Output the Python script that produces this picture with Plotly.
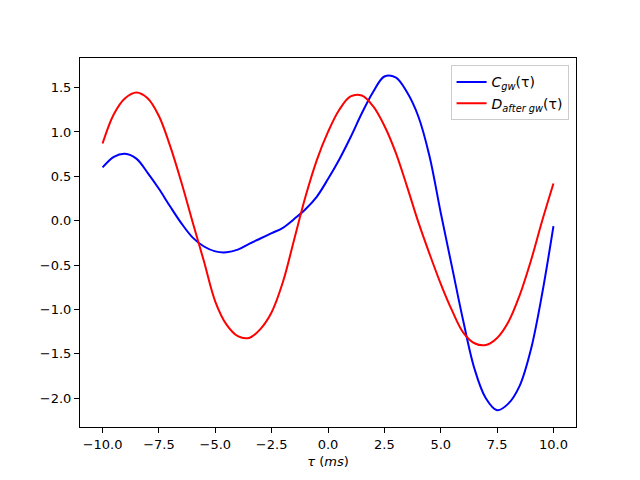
import plotly.graph_objects as go

tau = [-10, -9.5, -9.0, -8.5, -8.0, -7.5, -7.0, -6.5, -6.0, -5.5, -5.0, -4.5, -4.0, -3.5, -3.0,
       -2.5, -2.0, -1.5, -1.0, -0.5, 0.0, 0.5, 1.0, 1.5, 2.0, 2.5, 3.0, 3.5, 4.0, 4.5, 5.0,
       5.5, 6.0, 6.5, 7.0, 7.5, 8.0, 8.5, 9.0, 9.5, 10.0]

c_gw = [0.60, 0.72, 0.755, 0.70, 0.54, 0.36, 0.16, -0.03, -0.19, -0.29, -0.345, -0.355, -0.325,
        -0.26, -0.20, -0.14, -0.08, 0.02, 0.13, 0.27, 0.47, 0.69, 0.94, 1.21, 1.45, 1.625, 1.615,
        1.45, 1.18, 0.73, 0.09, -0.52, -1.13, -1.67, -2.00, -2.135, -2.06, -1.86, -1.45, -0.82, -0.06]

d_after = [0.87, 1.20, 1.38, 1.445, 1.38, 1.18, 0.84, 0.43, -0.02, -0.46, -0.91, -1.17, -1.30,
           -1.32, -1.22, -1.03, -0.69, -0.21, 0.27, 0.68, 1.00, 1.25, 1.40, 1.41, 1.29, 1.07, 0.77,
           0.39, -0.01, -0.37, -0.71, -1.01, -1.26, -1.38, -1.40, -1.32, -1.14, -0.84, -0.45, 0.00, 0.42]

xticks = [-10.0, -7.5, -5.0, -2.5, 0.0, 2.5, 5.0, 7.5, 10.0]
yticks = [-2.0, -1.5, -1.0, -0.5, 0.0, 0.5, 1.0, 1.5]

def lab(v):
    return f"{v:.1f}".replace("-", "\u2212")

fig = go.Figure()
fig.add_trace(go.Scatter(x=tau, y=c_gw, mode="lines", line=dict(color="#0000ff", width=2, shape="spline"),
                         name="<i>C</i><sub><i>gw</i></sub>(τ)"))
fig.add_trace(go.Scatter(x=tau, y=d_after, mode="lines", line=dict(color="#ff0000", width=2, shape="spline"),
                         name="<i>D</i><sub><i>after gw</i></sub>(τ)"))

allv = c_gw + d_after
lo, hi = min(allv), max(allv)
pad = 0.05 * (hi - lo)
xpad = 0.05 * (max(tau) - min(tau))

axis_common = dict(showgrid=False, zeroline=False, showline=True, linecolor="black", linewidth=1,
                   mirror=True, ticks="outside", ticklen=5, tickwidth=1, tickcolor="black",
                   tickfont=dict(family="DejaVu Sans", size=13, color="black"))

fig.update_layout(
    width=640, height=480,
    margin=dict(l=80, r=64, t=58, b=53),
    paper_bgcolor="white", plot_bgcolor="white",
    font=dict(family="DejaVu Sans", size=13, color="black"),
    xaxis=dict(range=[min(tau) - xpad, max(tau) + xpad], tickvals=xticks,
               ticktext=[lab(v) for v in xticks],
               title=dict(text="<i>τ</i> (<i>ms</i>)", standoff=6, font=dict(size=13)), **axis_common),
    yaxis=dict(range=[lo - pad, hi + pad + 0.02], tickvals=yticks, ticktext=[lab(v) for v in yticks],
               **axis_common),
    legend=dict(x=0.985, y=0.98, xanchor="right", yanchor="top", bgcolor="rgba(255,255,255,0.8)",
                bordercolor="#cccccc", borderwidth=1, font=dict(size=14)),
    showlegend=True,
)

fig.write_html("out.html")
